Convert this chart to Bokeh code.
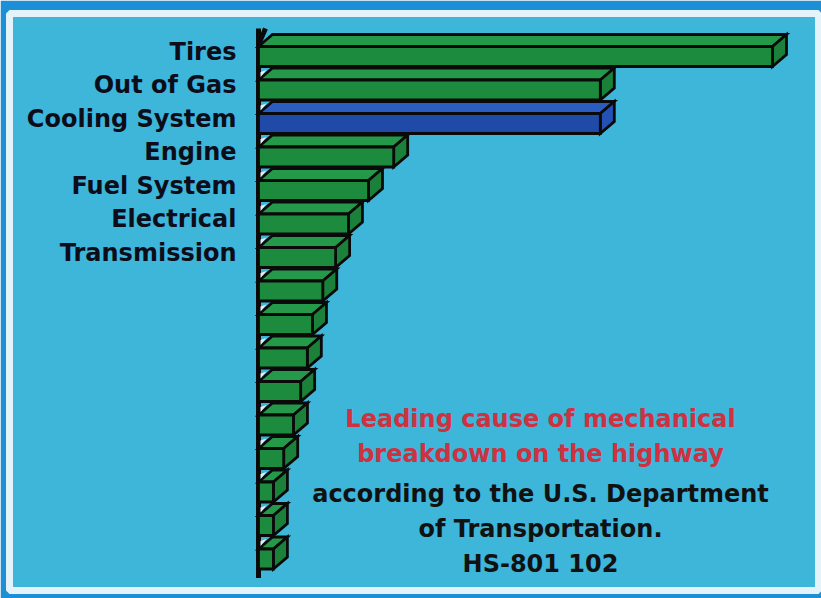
from bokeh.plotting import figure
from bokeh.models import Range1d
from bokeh.core.properties import value
from bokeh.embed import file_html
from bokeh.resources import INLINE

# ---- data (relative frequency, Tires = 100) ----
causes = ["Tires", "Out of Gas", "Cooling System", "Engine", "Fuel System",
          "Electrical", "Transmission", "", "", "", "", "", "", "", "", ""]
values = [100, 66.5, 66.5, 26.3, 21.4, 17.5, 15.0, 12.5, 10.5, 9.5, 8.2, 6.8,
          4.9, 2.9, 2.9, 2.9]
highlight = "Cooling System"
note_red = ["Leading cause of mechanical", "breakdown on the highway"]
note_black = ["according to the U.S. Department", "of Transportation.", "HS-801 102"]

# ---- layout helpers (pixel scale of the drawing) ----
PX_PER_UNIT = 5.14          # horizontal px per value unit
PX_PER_ROW = 33.5           # vertical px per bar row
AXIS_X = 258                # page px of the value axis
ROW0_Y = 56                 # page px of first bar centre
W, H = 821, 598
ML, MT, MR, MB = 9, 13, 3, 8
fx0, fx1 = ML, W - MR
fy0, fy1 = MT, H - MB

def ux(px):
    return px / PX_PER_UNIT

def uy(px):
    return px / PX_PER_ROW

p = figure(width=W, height=H, output_backend="svg", toolbar_location=None,
           x_axis_type=None, y_axis_type=None,
           x_range=Range1d((fx0 - AXIS_X) / PX_PER_UNIT, (fx1 - AXIS_X) / PX_PER_UNIT),
           y_range=Range1d((fy1 - ROW0_Y) / PX_PER_ROW, (fy0 - ROW0_Y) / PX_PER_ROW),
           min_border_left=ML, min_border_top=MT, min_border_right=MR, min_border_bottom=MB)
p.border_fill_color = "#1c8fd6"
p.background_fill_color = "#3db6da"
p.outline_line_color = "#e4f3fa"
p.outline_line_width = 7
p.xgrid.visible = False
p.ygrid.visible = False

half = uy(10)
ddx, ddy = ux(14), uy(12)
n = len(values)
rows = list(range(n))

front_c, top_c, side_c = [], [], []
for c in causes:
    if c == highlight:
        front_c.append("#1f4aa8"); top_c.append("#2a5cc2"); side_c.append("#2352b4")
    else:
        front_c.append("#1d8b3d"); top_c.append("#24994a"); side_c.append("#1b8039")

top_xs, top_ys, side_xs, side_ys, spot_xs, spot_ys = [], [], [], [], [], []
for i, v in zip(rows, values):
    t, b = i - half, i + half
    top_xs.append([0, v, v + ddx, ddx])
    top_ys.append([t, t, t - ddy, t - ddy])
    side_xs.append([v, v + ddx, v + ddx, v])
    side_ys.append([t, t - ddy, b - ddy, b])
    spot_xs.append([ux(2), ux(8), ux(2)])
    spot_ys.append([t - uy(3), t - ddy + uy(2), t - ddy + uy(4)])

# axis wall
p.segment(x0=[0], y0=[n - 1 + half + uy(9)], x1=[0], y1=[-half - ddy - uy(6)],
          line_color="#0a0a0a", line_width=5)
p.segment(x0=[0], y0=[-half - uy(2)], x1=[ddx * 0.5], y1=[-half - ddy - uy(6)],
          line_color="#0a0a0a", line_width=5)

p.patches(xs=top_xs, ys=top_ys, fill_color=top_c, line_color="#0a0a0a",
          line_width=2.8, line_join="miter")
p.patches(xs=spot_xs[1:], ys=spot_ys[1:], fill_color="#e8eef0", line_color=None)
p.patches(xs=side_xs, ys=side_ys, fill_color=side_c, line_color="#0a0a0a",
          line_width=2.8, line_join="miter")
p.quad(left=[0] * n, right=values, top=[i - half for i in rows],
       bottom=[i + half for i in rows], fill_color=front_c,
       line_color="#0a0a0a", line_width=2.8, line_join="miter")

# category labels
lab_rows = [i for i, c in zip(rows, causes) if c]
lab_text = [c for c in causes if c]
p.text(x=[0] * len(lab_rows), y=lab_rows, text=lab_text, x_offset=-22, y_offset=-5,
       text_align="right", text_baseline="middle", text_color="#0d0d1a",
       text_font=value("DejaVu Sans"), text_font_style="bold", text_font_size="24px")

# note
note_x = ux(540 - AXIS_X)
red_y = [uy(418 - ROW0_Y), uy(453 - ROW0_Y)]
blk_y = [uy(493 - ROW0_Y), uy(528 - ROW0_Y), uy(563 - ROW0_Y)]
p.text(x=[note_x] * 2, y=red_y, text=note_red, text_align="center",
       text_baseline="middle", text_color="#cf3140",
       text_font=value("DejaVu Sans"), text_font_style="bold", text_font_size="24px")
p.text(x=[note_x] * 3, y=blk_y, text=note_black, text_align="center",
       text_baseline="middle", text_color="#111111",
       text_font=value("DejaVu Sans"), text_font_style="bold", text_font_size="24px")

open("out.html", "w").write(file_html(p, INLINE))
